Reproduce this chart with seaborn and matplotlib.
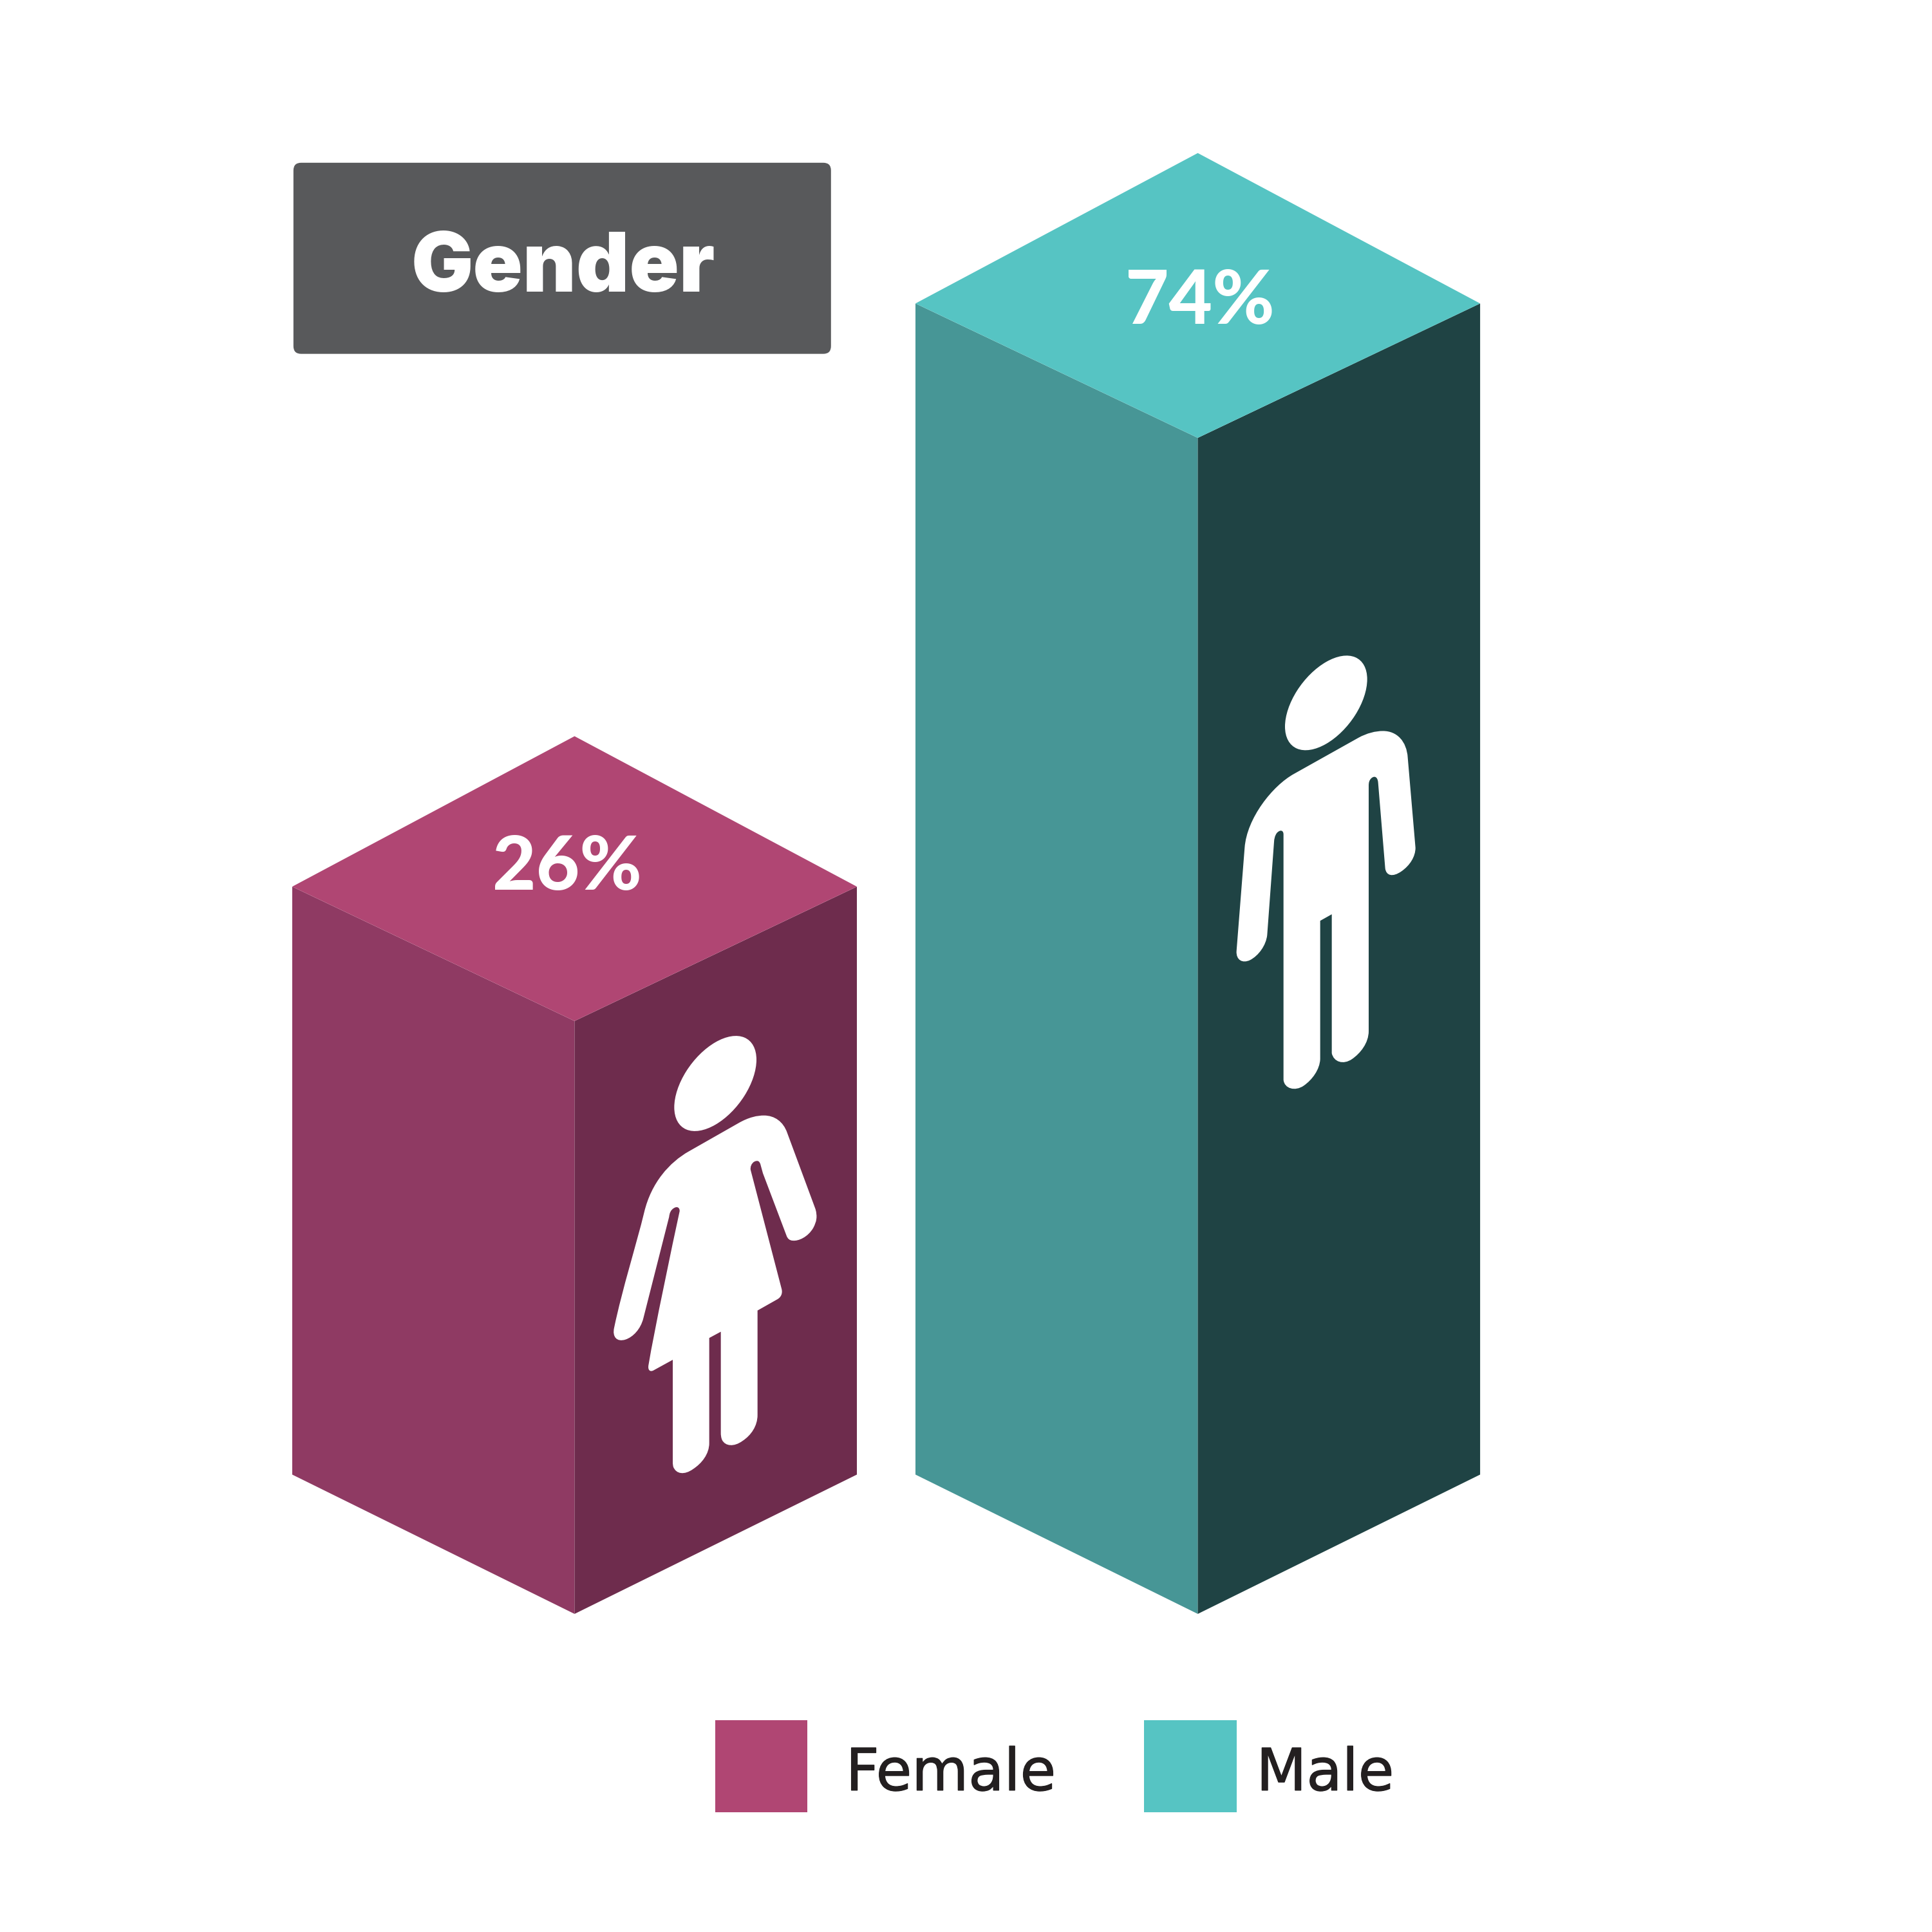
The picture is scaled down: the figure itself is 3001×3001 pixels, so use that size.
import numpy as np
import matplotlib
matplotlib.use("Agg")
import matplotlib.pyplot as plt
import matplotlib.patheffects as pe
from matplotlib.patches import FancyBboxPatch, PathPatch, Rectangle
from matplotlib.path import Path
from matplotlib.transforms import Affine2D
import seaborn as sns

# data
genders = ["Female", "Male"]
shares = [26, 74]
top_colors = ["#B04673", "#56C4C3"]
left_colors = ["#8F3A63", "#479696"]
right_colors = ["#6E2C4D", "#1F4344"]

# layout, everything in px of a 1567 wide preview unless said otherwise
W = 1567
SCALE = 3001 / W
PX_PER_BAR = 505.5
PX_PER_PCT = 9.854
ORIGIN_X = 466
FLOOR_Y = 1309
BASE = -22.8  # bars stand on a plinth, so height isnt proportional from 0
BAR_WIDTH = 0.906
RISE_BOTTOM = 113 / PX_PER_PCT
RISE_TOP = 109 / PX_PER_PCT
BACK_RISE = 231 / PX_PER_PCT

sns.set_theme(style="white")
fig = plt.figure(figsize=(30.01, 30.01), dpi=100, facecolor="white")
ax = fig.add_axes([0, 0, 1, 1])

sns.barplot(
    x=genders,
    y=np.array(shares) - BASE,
    bottom=BASE,
    width=BAR_WIDTH,
    errorbar=None,
    color="white",
    ax=ax,
)
ax.set_xlim(-ORIGIN_X / PX_PER_BAR, (W - ORIGIN_X) / PX_PER_BAR)
ax.set_ylim((FLOOR_Y - W) / PX_PER_PCT + BASE, FLOOR_Y / PX_PER_PCT + BASE)
ax.axis("off")

# turn each bar into the three faces of a box
for bar, c_top, c_left, c_right in zip(ax.patches, top_colors, left_colors, right_colors):
    x0, x1 = bar.get_x(), bar.get_x() + bar.get_width()
    xm = (x0 + x1) / 2
    y0, y1 = bar.get_y(), bar.get_y() + bar.get_height()
    bar.set_visible(False)
    ax.fill([x0, xm, xm, x0], [y0 + RISE_BOTTOM, y0, y1, y1 + RISE_TOP], color=c_left, lw=0)
    ax.fill([xm, x1, x1, xm], [y0, y0 + RISE_BOTTOM, y1 + RISE_TOP, y1], color=c_right, lw=0)
    ax.fill([x0, xm, x1, xm], [y1 + RISE_TOP, y1, y1 + RISE_TOP, y1 + BACK_RISE], color=c_top, lw=0)

# overlay in full size px for icons and text
ov = fig.add_axes([0, 0, 1, 1], facecolor="none")
ov.set_xlim(0, 3001)
ov.set_ylim(3001, 0)
ov.axis("off")


def icon(body, head, x0, y0, sx, sy):
    verts, codes = [], []
    for i, seg in enumerate(body):
        pts = [(x0 + seg[j] * sx, y0 + seg[j + 1] * sy) for j in range(0, len(seg), 2)]
        verts += pts
        if i == 0:
            codes.append(Path.MOVETO)
        elif len(pts) == 1:
            codes.append(Path.LINETO)
        else:
            codes += [Path.CURVE4] * 3
    verts.append(verts[-1])
    codes.append(Path.CLOSEPOLY)
    ov.add_patch(PathPatch(Path(verts, codes), fc="white", ec="none", lw=0))

    # head is a sheared circle
    cx, cy, a, b, r = head
    m = np.array([[a * sx, 0, x0 + cx * sx],
                  [-b * r * sy, -b * np.sqrt(1 - r**2) * sy, y0 + cy * sy],
                  [0, 0, 1]])
    ov.add_patch(PathPatch(Affine2D(m).transform_path(Path.unit_circle()), fc="white", ec="none", lw=0))


woman_head = (543.5, 212.5, 191.5, 152.5, 0.5)
woman_body = [
    (650, 340), (700, 320, 740, 315, 770, 315), (820, 315, 860, 335, 878, 370),
    (1010, 615), (1020, 640, 1015, 655, 1000, 675), (975, 705, 930, 718, 905, 716),
    (890, 716, 880, 710, 875, 700), (765, 500), (755, 475),
    (750, 460, 740, 458, 725, 463), (712, 468, 705, 480, 708, 490),
    (852, 870), (858, 885, 850, 898, 830, 905), (740, 940), (740, 1275),
    (740, 1310, 710, 1340, 670, 1358), (630, 1378, 590, 1375, 575, 1355),
    (570, 1347, 569, 1340, 569, 1330), (569, 1008), (515, 1028), (515, 1365),
    (515, 1400, 480, 1430, 440, 1448), (400, 1468, 360, 1465, 347, 1440),
    (345, 1430), (345, 1098), (255, 1132), (238, 1138, 228, 1130, 232, 1115),
    (260, 1000, 340, 740, 377, 622), (378, 610, 365, 605, 350, 612),
    (335, 618, 330, 628, 328, 640), (208, 965), (195, 1000, 160, 1025, 125, 1033),
    (85, 1042, 62, 1025, 72, 995), (110, 870, 175, 730, 212, 625),
    (245, 530, 330, 465, 420, 430), (650, 340),
]
man_head = (479.5, 200, 191.5, 160, 0.5)
man_body = [
    (630, 318), (670, 302, 710, 295, 745, 295), (810, 295, 855, 330, 860, 385),
    (896, 690), (896, 720, 870, 750, 830, 770), (790, 790, 760, 785, 755, 760),
    (722, 470), (720, 450, 705, 445, 690, 455), (680, 462, 678, 470, 678, 480),
    (678, 1310), (678, 1350, 640, 1385, 600, 1405), (560, 1425, 515, 1415, 506, 1385),
    (506, 915), (452, 937), (452, 1405), (450, 1440, 415, 1475, 375, 1495),
    (335, 1515, 285, 1505, 281, 1475), (281, 645), (281, 630, 265, 628, 250, 640),
    (240, 650, 238, 660, 237, 670), (205, 985), (200, 1020, 165, 1055, 125, 1070),
    (90, 1082, 60, 1070, 62, 1040), (100, 690), (110, 590, 230, 480, 330, 440),
    (630, 318),
]
icon(woman_body, woman_head, 930, 1580, 1 / 3, 760 / 1568)
icon(man_body, man_head, 1900, 1000, 1 / 3, 720 / 1568)

# title box
ov.add_patch(FancyBboxPatch(
    (238 * SCALE, 132 * SCALE), 436 * SCALE, 155 * SCALE,
    boxstyle="round,pad=0,rounding_size=12", fc="#58595B", ec="none", lw=0,
))
ov.text(457 * SCALE, 219 * SCALE, "Gender", color="white", family="Inter", weight=900,
        fontsize=92, ha="center", va="center")

# percent labels on the box tops
pct_pos = [(460, 704), (973, 245)]
for (px, py), v in zip(pct_pos, shares):
    ov.text(px * SCALE, py * SCALE, f"{v}%", color="white", family="Lato", weight=900,
            fontsize=84, ha="center", va="center")

# legend
swatch_x = [580, 928]
label_x = [686, 1019]
for g, c, sx, lx in zip(genders, top_colors, swatch_x, label_x):
    ov.add_patch(Rectangle((sx * SCALE, 1395 * SCALE), 75 * SCALE, 75 * SCALE, fc=c, ec="none", lw=0))
    ov.text(lx * SCALE, 1452 * SCALE, g, color="#231F20", family="DejaVu Sans",
            fontsize=65, ha="left", va="baseline",
            path_effects=[pe.withStroke(linewidth=1, foreground="#231F20")])

fig.savefig("out.png", dpi=100, facecolor="white")
